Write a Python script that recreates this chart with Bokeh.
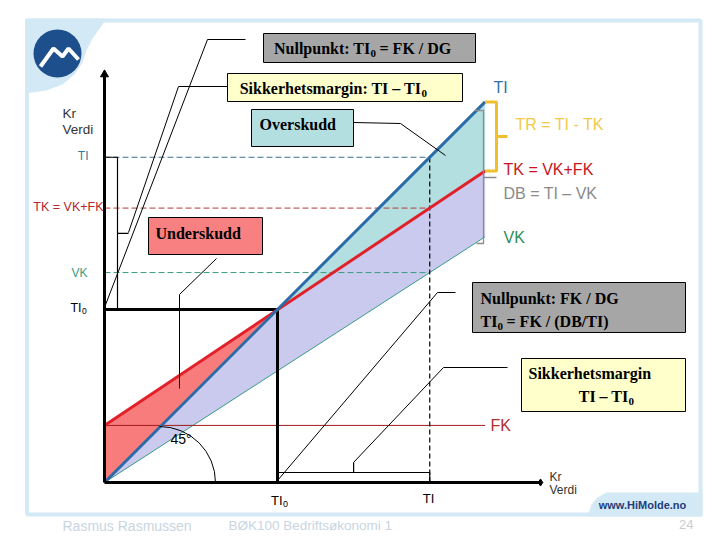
import numpy as np
from bokeh.plotting import figure
from bokeh.models import Range1d
from bokeh.core.properties import value
from bokeh.embed import file_html
from bokeh.resources import INLINE

# ---------------- data (kr) ----------------
omsetning = [0, 220]      # sales value (x) at the line ends
ti_verdi = [0, 220]       # TI: total income (45 degree line)
tk_verdi = [33, 180]      # TK = VK + FK
vk_verdi = [0, 142]       # VK: variable cost
fk_verdi = [33, 33]       # FK: fixed cost
ti0 = 100                 # TI0: break-even (nullpunkt)
ti_akt = 188              # actual TI

# ---------------- layout helpers ----------------
S = 1.73                  # px per kr unit
OX, OY = 104, 482         # origin of the diagram in page pixels
W, H = 720, 540


def R(xr, yr):
    return (xr - OX) / S, (OY - yr) / S


def f(arr, u):
    return float(np.interp(u, omsetning, arr))


p = figure(width=W, height=H, output_backend="svg", toolbar_location=None,
           x_range=Range1d((0 - OX) / S, (W - OX) / S),
           y_range=Range1d((OY - H) / S, (OY - 0) / S),
           x_axis_location=None, y_axis_location=None,
           min_border=0, outline_line_color=None)
p.xgrid.grid_line_color = None
p.ygrid.grid_line_color = None
p.background_fill_color = "white"
p.border_fill_color = "white"


def seg(points, color="black", width=1.0, dash="solid"):
    xs, ys = zip(*[R(*pt) for pt in points])
    p.line(list(xs), list(ys), line_color=color, line_width=width, line_dash=dash)


def txt(xr, yr, s, size, color="black", font="Liberation Sans", align="left",
        style="normal", baseline="middle"):
    u, v = R(xr, yr)
    p.text(x=[u], y=[v], text=[s], text_font=value(font), text_font_size=f"{size}px",
           text_color=color, text_align=align, text_baseline=baseline,
           text_font_style=style)


def box(x0, y0, x1, y1, color):
    l, t = R(x0, y0)
    r, b = R(x1, y1)
    p.quad(left=[l], right=[r], top=[t], bottom=[b], fill_color=color,
           line_color="black", line_width=1)


# ---------------- slide frame ----------------
FR = "#d3e9f5"
fl, ft = R(26.5, 20)
fr, fb = R(700, 514)
p.quad(left=[fl], right=[fr], top=[ft], bottom=[fb], fill_color=None,
       line_color=FR, line_width=4)
blob = [(25, 18), (106, 18), (100, 27), (92, 38), (86, 50), (82, 62), (74, 74),
        (62, 84), (46, 90), (25, 93)]
bx, by = zip(*[R(*pt) for pt in blob])
p.patch(list(bx), list(by), fill_color=FR, line_color=None)
tab = [(587, 516), (591, 504), (597, 497), (606, 492), (702, 492), (702, 516)]
tx, ty = zip(*[R(*pt) for pt in tab])
p.patch(list(tx), list(ty), fill_color=FR, line_color=None)

# logo
cu, cv = R(57, 53)
p.circle(x=[cu], y=[cv], radius=24 / S, fill_color="#1d4f8c", line_color=None)
seg([(40, 66), (53, 48), (62, 56), (68, 48), (78, 59)], color="white", width=4)

# ---------------- fills ----------------
kt = (tk_verdi[1] - tk_verdi[0]) / (omsetning[1] - omsetning[0])
ki = (ti_verdi[1] - ti_verdi[0]) / (omsetning[1] - omsetning[0])
be = (tk_verdi[0] - ti_verdi[0]) / (ki - kt)
xe = omsetning[1]

p.varea(x=[0, be, xe], y1=[f(vk_verdi, 0), f(vk_verdi, be), f(vk_verdi, xe)],
        y2=[f(ti_verdi, 0), f(ti_verdi, be), f(tk_verdi, xe)], fill_color="#c9caee")
p.varea(x=[0, be], y1=[f(ti_verdi, 0), f(ti_verdi, be)],
        y2=[f(tk_verdi, 0), f(tk_verdi, be)], fill_color="#f87c7c")
p.varea(x=[be, xe], y1=[f(tk_verdi, be), f(tk_verdi, xe)],
        y2=[f(ti_verdi, be), f(ti_verdi, xe)], fill_color="#b3dfe1")

# thin lines VK, FK
p.line(omsetning, vk_verdi, line_color="#3a9a88", line_width=1)
p.line(omsetning, fk_verdi, line_color="#a31a1a", line_width=1)

# dashed levels at actual TI
p.line([0, ti_akt], [f(ti_verdi, ti_akt)] * 2, line_color="#3a7090", line_width=1, line_dash="6 3")
p.line([0, ti_akt], [f(tk_verdi, ti_akt)] * 2, line_color="#b33a3a", line_width=1, line_dash="6 3")
p.line([0, ti_akt], [f(vk_verdi, ti_akt)] * 2, line_color="#3a9a82", line_width=1, line_dash="6 3")
p.line([ti_akt, ti_akt], [0, f(ti_verdi, ti_akt)], line_color="black", line_width=1.2, line_dash="5 3")

# break-even lines
p.line([0, ti0, ti0], [ti0, ti0, 0], line_color="black", line_width=3)

# main lines
p.line(omsetning, tk_verdi, line_color="#e1202a", line_width=3)
p.line(omsetning, ti_verdi, line_color="#2b6ca8", line_width=3)

# axes
yt = R(0, 74)[1]
xt = R(540, 0)[0]
p.line([0, 0], [0, yt], line_color="black", line_width=3)
p.line([0, xt], [0, 0], line_color="black", line_width=3)
p.scatter(x=[0], y=[yt], marker="triangle", size=8, fill_color="black", line_color="black")
p.scatter(x=[xt], y=[0], marker="diamond", size=7, fill_color="black", line_color="black")

# brackets
xb = R(117, 0)[0]
p.line([0, xb, xb, 0], [ti0, ti0, ti_akt, ti_akt], line_color="black", line_width=1.2)
midv = (ti0 + ti_akt) / 2
p.line([xb, R(128, 0)[0]], [midv, midv], line_color="black", line_width=1.2)

yb = R(0, 472)[1]
p.line([ti0, ti0, ti_akt, ti_akt], [0, yb, yb, 0], line_color="black", line_width=1.2)
midu = (ti0 + ti_akt) / 2
p.line([midu, midu], [yb, R(0, 462)[1]], line_color="black", line_width=1.2)

xy = R(496, 0)[0]
ti_e, tk_e = ti_verdi[1], tk_verdi[1]
p.line([xe, xy, xy, xe], [ti_e, ti_e, tk_e, tk_e], line_color="#f0bf2e", line_width=3)
p.line([xy, R(507, 0)[0]], [(ti_e + tk_e) / 2] * 2, line_color="#f0bf2e", line_width=3)

seg([(474, 110), (483, 110), (483, 243), (476, 243)], color="#8c8c8c", width=1.3)
seg([(483, 177), (496, 177)], color="#8c8c8c", width=1.3)

# 45 degree arc
au, av = R(159, 482)
p.arc(x=[au], y=[av], radius=56 / S, start_angle=0, end_angle=np.pi / 2,
      line_color="black", line_width=1)

# leader lines
seg([(245, 39), (207, 39), (104, 307)])
seg([(227, 86), (178, 86), (128, 232)])
seg([(353, 122), (400, 123), (445, 155)])
seg([(216, 258), (179, 294), (179, 388)])
seg([(455, 292), (437, 292), (277, 480)])
seg([(507, 367), (443, 367), (353, 462)])

# boxes
box(263, 33, 475, 62, "#a6a6a6")
box(227, 73, 462, 101, "#ffffcc")
box(251, 109, 353, 146, "#b3dfe1")
box(148, 217, 262, 254, "#f88080")
box(472, 282, 685, 332, "#a6a6a6")
box(521, 358, 685, 411, "#ffffcc")

SER = "Liberation Serif"
B = dict(font=SER, style="bold")
# "Nullpunkt: TI0 = FK / DG"
txt(370, 48, "Nullpunkt: TI", 16, align="right", **B)
txt(370, 53, "0", 11, **B)
txt(379, 48, "= FK / DG", 16, **B)
# "Sikkerhetsmargin: TI – TI0"
txt(421, 88, "Sikkerhetsmargin: TI – TI", 16, align="right", **B)
txt(421, 93, "0", 11, **B)
txt(259, 124, "Overskudd", 16, **B)
txt(155, 233, "Underskudd", 16, **B)
txt(480, 298, "Nullpunkt: FK / DG", 16, **B)
# "TI0 = FK / (DB/TI)"
txt(497, 321, "TI", 16, align="right", **B)
txt(497, 326, "0", 11, **B)
txt(506, 321, "= FK / (DB/TI)", 16, **B)
txt(528, 373, "Sikkerhetsmargin", 16, **B)
# "TI – TI0"
txt(628, 396, "TI – TI", 16, align="right", **B)
txt(628, 401, "0", 11, **B)

# axis labels (left)
txt(62, 113, "Kr", 13.5, color="#333333")
txt(62, 129, "Verdi", 13.5, color="#333333")
txt(88, 155, "TI", 12, color="#2d7da0", align="right")
txt(103, 206, "TK = VK+FK", 12.5, color="#b4282e", align="right")
txt(87, 272, "VK", 12, color="#3a9d82", align="right")
txt(81, 307, "TI", 12.5, color="black", align="right")
txt(81.5, 310, "0", 8.5, color="black")

# axis labels (bottom)
txt(282, 500, "TI", 13, align="right")
txt(282.5, 503, "0", 9)
txt(428, 498, "TI", 13, align="center")
txt(549, 476, "Kr", 12, color="#333333")
txt(549, 489, "Verdi", 12, color="#333333")

# right labels
txt(493, 87, "TI", 16, color="#2f73a8")
txt(515, 124, "TR = TI - TK", 16, color="#f2c94a")
txt(503, 169, "TK = VK+FK", 16, color="#c8141e")
txt(503, 193, "DB = TI – VK", 16, color="#8a8a8a")
txt(503, 237, "VK", 16, color="#2e8c5a")
txt(490, 425, "FK", 16, color="#b03030")
txt(170, 438, "45°", 14)

# footer
txt(62, 525, "Rasmus Rasmussen", 14, color="#c9d5df")
txt(228, 525, "BØK100 Bedriftsøkonomi 1", 13.5, color="#c9d5df")
txt(693, 524, "24", 13, color="#c8cdd2", align="right")
txt(642, 504, "www.HiMolde.no", 11, color="#1f3d7a", align="center", style="bold")

open("out.html", "w").write(file_html(p, INLINE))
